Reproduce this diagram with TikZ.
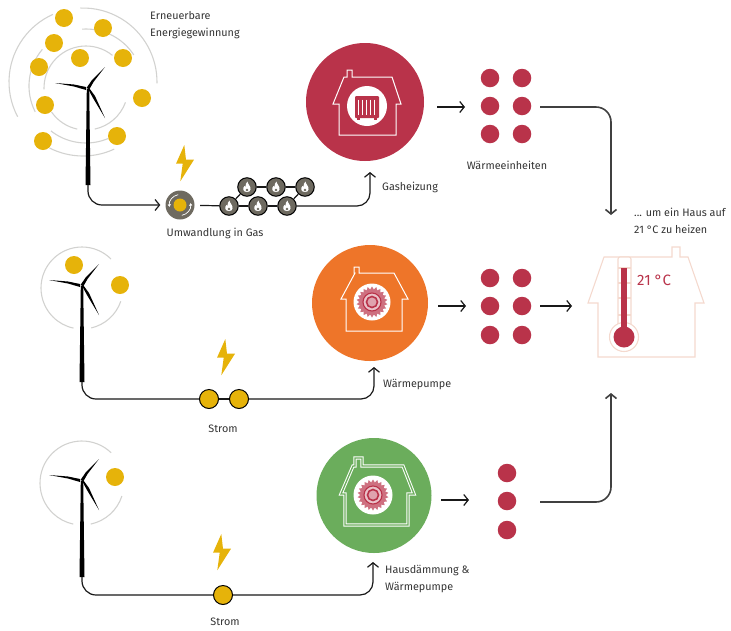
\documentclass[tikz,border=0pt]{standalone}
\usepackage{fontspec}
\setmainfont{Fira Sans}
\usetikzlibrary{arrows.meta,shapes.geometric}
\definecolor{sonne}{HTML}{E6B30A}
\definecolor{rot}{HTML}{B9334A}
\definecolor{orange}{HTML}{EE7529}
\definecolor{gruen}{HTML}{6BAD5C}
\definecolor{grau}{HTML}{6E6A60}
\definecolor{rosa}{HTML}{F4D9CE}
\definecolor{ring}{HTML}{D2D2D0}
\tikzset{>={Straight Barb[length=4.5pt,width=11pt]}}
\tikzset{
  sun/.style={circle,fill=sonne,inner sep=0,minimum size=18pt},
  strom/.style={circle,draw=black,line width=1pt,fill=sonne,inner sep=0,minimum size=19pt},
  unit/.style={circle,fill=rot,inner sep=0,minimum size=18.5pt},
  ringline/.style={ring,line width=1.1pt},
  wire/.style={black!90,line width=1.2pt},
  thick wire/.style={black!75,line width=1.6pt},
  iconline/.style={white,line width=1pt},
  label/.style={anchor=west,align=left,inner sep=0,text=black!80,font=\fontsize{10.8}{17}\selectfont},
  flame/.style={circle,draw=black,line width=1pt,fill=grau,inner sep=0,minimum size=18.5pt,
    path picture={
      \begin{scope}[shift={(path picture bounding box.center)}]
        \fill[white] (0,5) .. controls (-4.5,5) and (-4.5,1) .. (-2.5,-1) .. controls (-2,0) .. (-1.3,0)
          .. controls (-1.5,-3) .. (0.5,-5.5) .. controls (0.5,-3) and (4.5,0) .. (3.5,2.5)
          .. controls (3,4.5) and (2,5) .. (0,5);
        \fill[grau] (0,3) circle (1.4pt);
      \end{scope}}}
}
\newcommand{\windrad}[3]{
  \begin{scope}[shift={(#1,#2)}]
    \fill[black] (-1.2,0) -- (1.2,0) -- (2.5,96) -- (-2.5,96) -- cycle;
    \fill[black] (-2,-2) -- (-14,-4.5) -- (-33,-6) -- (-14,-2.5) -- (-2,1) -- cycle;
    \fill[black] (-1.5,-1) -- (4,-9) -- (17,-22) -- (5.5,-7) -- (1.5,0) -- cycle;
    \fill[black] (-0.5,-1) -- (5,9) -- (17,29) -- (7,7) -- (1.5,-0.5) -- cycle;
    \coordinate (#3) at (0,96);
  \end{scope}}
\newcommand{\blitz}[2]{
  \fill[sonne,shift={(#1,#2)}] (-0.7,-18) -- (-9,0.7) -- (-2.3,0.7) -- (-4.7,18.3) -- (9,-3.3) -- (1,-3.3) -- cycle;}
\newcommand{\zahnrad}[3]{
  \node[circle,fill=white,inner sep=0,minimum size=#3pt](#1) at (#2) {};
  \node[star,star points=22,star point ratio=1.22,fill=rot!70,inner sep=0,minimum size=31pt] at (#1) {};
  \node[circle,draw=rot,line width=1.1pt,fill=rot!30,inner sep=0,minimum size=18pt] at (#1) {};
  \node[circle,draw=rot,line width=1.6pt,fill=rot!45,inner sep=0,minimum size=11pt] at (#1) {};}

\begin{document}
\begin{tikzpicture}[x=1pt,y=-1pt]
      \useasboundingbox (0,0) rectangle (731,630);

      % erste Reihe
      \draw[ringline] (83,82) ++(114:74pt) arc[start angle=114,end angle=208,radius=74pt];
      \draw[ringline] (83,82) ++(-1:74pt) arc[start angle=-1,end angle=92,radius=74pt];
      \draw[ringline] (83,82) ++(243:74pt) arc[start angle=243,end angle=295,radius=74pt];
      \draw[ringline] (86,86) ++(33:57pt) arc[start angle=33,end angle=94,radius=57pt];
      \draw[ringline] (86,86) ++(140:57pt) arc[start angle=140,end angle=207,radius=57pt];
      \draw[ringline] (86,86) ++(232:57pt) arc[start angle=232,end angle=293,radius=57pt];
      \draw[ringline] (86,88) ++(51:42pt) arc[start angle=51,end angle=182,radius=42pt];
      \draw[ringline] (86,88) ++(215:42pt) arc[start angle=215,end angle=258,radius=42pt];
      \draw[ringline] (86,88) ++(282:42pt) arc[start angle=282,end angle=340,radius=42pt];

      \node[sun](s1) at (64,18) {};
      \node[sun](s2) at (103,28) {};
      \node[sun](s3) at (54,43) {};
      \node[sun](s4) at (80,58) {};
      \node[sun](s5) at (123,58) {};
      \node[sun](s6) at (39,67) {};
      \node[sun](s7) at (142,98) {};
      \node[sun](s8) at (45,105) {};
      \node[sun](s9) at (117,136) {};
      \node[sun](s10) at (43,141) {};

      \windrad{88}{89}{foota}
      \node[label](erneuerbar) at (150,25.5) {Erneuerbare\\Energiegewinnung};

      \blitz{185}{163}
      \node[circle,fill=grau,inner sep=0,minimum size=29pt](conv) at (180,205) {};
      \node[circle,fill=sonne,inner sep=0,minimum size=13pt](convin) at (conv) {};
      \draw[white,line width=0.7pt,-{Triangle[length=2.5pt,width=3pt]}] (conv) ++(100:10.5pt) arc[start angle=100,end angle=190,radius=10.5pt];
      \draw[white,line width=0.7pt,-{Triangle[length=2.5pt,width=3pt]}] (conv) ++(-80:10.5pt) arc[start angle=-80,end angle=10,radius=10.5pt];
      \node[label,anchor=center](umwandlung) at (215,233) {Umwandlung in Gas};

      \draw[wire,->,rounded corners=14pt,shorten >=5pt] (foota) |- (conv);

      \node[flame](f1) at (229,206) {};
      \node[flame](f2) at (258,206) {};
      \node[flame](f3) at (287,206) {};
      \node[flame](f4) at (247,187) {};
      \node[flame](f5) at (276,187) {};
      \node[flame](f6) at (305,187) {};
      \coordinate (gasin) at (370,172);

      \draw[wire,shorten <=5.5pt] (conv) -- (f1);
      \draw[wire] (f1) -- (f2);
      \draw[wire] (f2) -- (f3);
      \draw[wire] (f4) -- (f5);
      \draw[wire] (f5) -- (f6);
      \draw[wire] (f1) -- (f4);
      \draw[wire] (f3) -- (f6);
      \draw[wire,->,rounded corners=13pt] (f3) -| (gasin);
      \node[label](gasheizung) at (382,187) {Gasheizung};

      % Haus Gasheizung
      \node[circle,fill=rot,inner sep=0,minimum size=118pt](gas) at (365,102) {};
      \draw[iconline] (333,104) -- (344,77) -- (347,77) -- (347,70) -- (352,70) -- (352,77) -- (392,77) -- (401,104) -- (396,104) -- (396,135) -- (339,135) -- (339,104) -- cycle;
      \node[circle,fill=white,inner sep=0,minimum size=40pt](gaskreis) at (367,106) {};
      \fill[rot,rounded corners=1pt] (355,96) rectangle (379,118);
      \fill[rot] (357,118) rectangle (360,120);
      \fill[rot] (374,118) rectangle (377,120);
      \draw[white,line width=1pt] (358.5,99.5) -- (358.5,114.5) (362.5,99.5) -- (362.5,114.5) (366.5,99.5) -- (366.5,114.5) (370.5,99.5) -- (370.5,114.5) (374.5,99.5) -- (374.5,114.5);

      \coordinate (pfeila) at (437,107);
      \coordinate (pfeilb) at (465,107);
      \draw[wire,->] (pfeila) -- (pfeilb);

      \node[unit](u1) at (490,78) {};
      \node[unit](u2) at (522,78) {};
      \node[unit](u3) at (490,106) {};
      \node[unit](u4) at (522,106) {};
      \node[unit](u5) at (490,134) {};
      \node[unit](u6) at (522,134) {};
      \node[label,anchor=center](einheiten) at (507,165) {Wärmeeinheiten};

      \coordinate (obena) at (540,107);
      \coordinate (obenb) at (611,215);
      \draw[thick wire,->,rounded corners=15pt] (obena) -| (obenb);

      \node[label](umein) at (634,220.5) {... um ein Haus auf\\21 °C zu heizen};

      % Zielhaus
      \draw[rosa,line width=1.1pt] (588,303) -- (604,257) -- (672,257) -- (672,247) -- (680,247) -- (680,257) -- (688,257) -- (704,303) -- (695,303) -- (695,357) -- (598,357) -- (598,303) -- cycle;
      \draw[rosa,line width=1.1pt,fill=white,rounded corners=2pt] (618,330) -- (618,257) -- (631,257) -- (631,330);
      \draw[rosa,line width=1.1pt] (618,268) -- (631,268) (618,283) -- (631,283) (618,298) -- (631,298) (618,315) -- (631,315);
      \node[circle,draw=rosa,line width=1.1pt,fill=white,inner sep=0,minimum size=29pt](bulb) at (624,337) {};
      \fill[rot] (621,268) rectangle (627,330);
      \node[circle,fill=rot,inner sep=0,minimum size=21pt](bulbin) at (bulb) {};
      \node[anchor=west,inner sep=0,text=rot,font=\fontsize{15}{15}\selectfont](grad) at (637,280) {21 °C};

      % zweite Reihe
      \draw[ringline] (82,288) ++(45:41pt) arc[start angle=45,end angle=258,radius=41pt];
      \draw[ringline] (82,288) ++(283:41pt) arc[start angle=283,end angle=341,radius=41pt];
      \node[sun](s11) at (74,265) {};
      \node[sun](s12) at (120,285) {};
      \windrad{82}{286}{footb}

      \blitz{226}{357}
      \node[strom](st1) at (209,399) {};
      \node[strom](st2) at (239,399) {};
      \coordinate (pumpin) at (374,367);
      \draw[wire,rounded corners=14pt] (footb) |- (st1);
      \draw[wire] (st1) -- (st2);
      \draw[wire,->,rounded corners=13pt] (st2) -| (pumpin);
      \node[label,anchor=center](stroma) at (223,429) {Strom};
      \node[label](pumpe) at (383,384) {Wärmepumpe};

      % Haus Waermepumpe
      \node[circle,fill=orange,inner sep=0,minimum size=116pt](pump) at (370,303) {};
      \draw[iconline] (341,299) -- (355,273) -- (354,273) -- (354,267) -- (359,267) -- (359,273) -- (394,273) -- (408,299) -- (402,299) -- (402,331) -- (346,331) -- (346,299) -- cycle;
      \zahnrad{pumprad}{372,302}{37}

      \coordinate (pfeilc) at (438,306);
      \coordinate (pfeild) at (466,306);
      \draw[wire,->] (pfeilc) -- (pfeild);

      \node[unit](u7) at (490,278) {};
      \node[unit](u8) at (522,278) {};
      \node[unit](u9) at (490,306) {};
      \node[unit](u10) at (522,306) {};
      \node[unit](u11) at (490,335) {};
      \node[unit](u12) at (522,335) {};

      \coordinate (pfeile) at (540,306);
      \coordinate (pfeilf) at (572,306);
      \draw[wire,->] (pfeile) -- (pfeilf);

      % dritte Reihe
      \draw[ringline] (82,483) ++(46:42pt) arc[start angle=46,end angle=258,radius=42pt];
      \draw[ringline] (82,483) ++(282:42pt) arc[start angle=282,end angle=342,radius=42pt];
      \node[sun](s13) at (115,477) {};
      \windrad{82}{481}{footc}

      \blitz{222}{552}
      \node[strom](st3) at (223,595) {};
      \coordinate (daemmin) at (373,562);
      \draw[wire,rounded corners=14pt] (footc) |- (st3);
      \draw[wire,->,rounded corners=13pt] (st3) -| (daemmin);
      \node[label,anchor=center](stromb) at (225,622) {Strom};
      \node[label](daemmung) at (385,579) {Hausdämmung \&\\Wärmepumpe};

      % Haus Daemmung
      \node[circle,fill=gruen,inner sep=0,minimum size=115pt](haus) at (374,495.5) {};
      \draw[white,line width=1pt,double=gruen,double distance=1.3pt] (341,494) -- (353,466) -- (355,466) -- (355,458) -- (362,458) -- (362,466) -- (403,466) -- (414,494) -- (408,494) -- (408,525) -- (345,525) -- (345,494) -- cycle;
      \zahnrad{hausrad}{373,495}{39}

      \coordinate (pfeilg) at (441,500);
      \coordinate (pfeilh) at (469,500);
      \draw[wire,->] (pfeilg) -- (pfeilh);

      \node[unit](u13) at (507,473) {};
      \node[unit](u14) at (507,501) {};
      \node[unit](u15) at (507,530) {};

      \coordinate (untena) at (540,502);
      \coordinate (untenb) at (611,393);
      \draw[thick wire,->,rounded corners=15pt] (untena) -| (untenb);
\end{tikzpicture}
\end{document}
